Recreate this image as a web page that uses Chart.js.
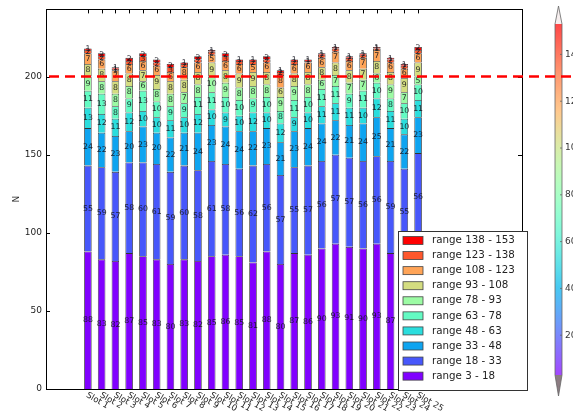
<!DOCTYPE html>
<html>
<head>
<meta charset="utf-8">
<script src="https://cdn.jsdelivr.net/npm/chart.js@4/dist/chart.umd.min.js"></script>
<style>
  html, body { margin: 0; padding: 0; background: #ffffff; }
  #wrap { width: 573px; height: 418px; }
</style>
</head>
<body>
<div id="wrap"><canvas id="c" width="573" height="418"></canvas></div>
<script>
// Slot names along the x axis
const slots = ['Slot 1','Slot 2','Slot 3','Slot 4','Slot 5','Slot 6','Slot 7','Slot 8','Slot 9','Slot 10',
  'Slot 11','Slot 12','Slot 13','Slot 14','Slot 15','Slot 16','Slot 17','Slot 18','Slot 19','Slot 20',
  'Slot 21','Slot 22','Slot 23','Slot 24','Slot 25'];

// Range names, bottom of the stack first
const ranges = ['range 3 - 18','range 18 - 33','range 33 - 48','range 48 - 63','range 63 - 78',
  'range 78 - 93','range 93 - 108','range 108 - 123','range 123 - 138','range 138 - 153'];

// Counts per slot for each range
const r3   = [88,83,82,87,85,83,80,83,82,85,86,85,81,88,80,87,86,90,93,91,90,93,87,86,95];
const r18  = [55,59,57,58,60,61,59,60,58,61,58,56,62,56,57,55,57,56,57,57,56,56,59,55,56];
const r33  = [24,22,23,20,23,20,22,21,24,23,24,24,22,23,21,23,24,24,22,21,24,25,21,22,23];
const r48  = [13,12,11,12,10,10,11,10,12,10, 9,10,12,10,12, 9,10,11,11,11,10,12,11,10,11];
const r63  = [11,13, 8, 9,13,10, 9, 9,11,11,10,10, 9,10, 8,11,10,11,11, 9,11,10, 8,10,10];
const r78  = [ 9, 8, 8, 8, 6, 8, 8, 7, 8,10, 9, 8, 8, 8, 9, 9, 8, 6, 7, 7, 7, 6, 9, 7, 5];
const r93  = [ 8, 8, 8, 8, 7, 9, 8, 8, 8, 9, 8, 9, 9, 8, 6, 8, 8, 8, 8, 8, 7, 8, 8, 9, 9];
const r108 = [ 7, 6, 7, 6, 6, 6, 6, 8, 6, 5, 6, 6, 5, 6, 8, 6, 6, 6, 7, 6, 7, 7, 6, 6, 6];
const r123 = [ 2, 2, 1, 2, 3, 2, 3, 2, 2, 2, 3, 2, 2, 2, 2, 2, 1, 2, 2, 2, 2, 1, 2, 2, 2];
const r138 = [ 1, 2, 1, 2, 2, 2, 2, 1, 2, 1, 2, 1, 1, 2, 1, 1, 1, 1, 1, 1, 1, 1, 1, 1, 2];

// Reference threshold and colour bar ticks
const threshold = 200;
const yTicks = [0, 50, 100, 150, 200];
const colorbarTicks = [20, 40, 60, 80, 100, 120, 140];
const colorbarRange = [3, 153];

const series = [r3, r18, r33, r48, r63, r78, r93, r108, r123, r138];

// matplotlib "rainbow" colour map
function rainbowRGB(t) {
  const c = v => Math.max(0, Math.min(1, v));
  return [c(Math.abs(2 * t - 0.5)), c(Math.sin(t * Math.PI)), c(Math.cos(t * Math.PI / 2))]
    .map(v => Math.round(v * 255));
}
function rainbow(t, alpha = 1) {
  const [r, g, b] = rainbowRGB(t);
  return `rgba(${r},${g},${b},${alpha})`;
}
const colors = ranges.map((_, i) => rainbow(i / (ranges.length - 1)));

const FONT = "'DejaVu Sans', sans-serif";

// Value labels centred on each bar segment
const segmentLabels = {
  id: 'segmentLabels',
  afterDatasetsDraw(chart) {
    const ctx = chart.ctx;
    ctx.save();
    ctx.font = `7.8px ${FONT}`;
    ctx.fillStyle = 'rgba(20,20,30,0.9)';
    ctx.textAlign = 'center';
    ctx.textBaseline = 'middle';
    chart.data.datasets.forEach((ds, i) => {
      const meta = chart.getDatasetMeta(i);
      meta.data.forEach((el, j) => {
        const v = ds.data[j].y;
        ctx.fillText(String(v), el.x, (el.y + el.base) / 2);
      });
    });
    ctx.restore();
  }
};

// Frame, inward ticks, rotated slot labels, colour bar, threshold line and legend
const decorations = {
  id: 'decorations',
  afterDraw(chart) {
    const ctx = chart.ctx;
    const a = chart.chartArea;
    const xs = chart.scales.x, ys = chart.scales.y;
    ctx.save();

    // axes frame
    ctx.strokeStyle = '#000';
    ctx.lineWidth = 1;
    ctx.strokeRect(Math.round(a.left) + 0.5, Math.round(a.top) + 0.5,
      Math.round(a.right - a.left), Math.round(a.bottom - a.top));

    // inward tick marks
    ctx.beginPath();
    yTicks.forEach(t => {
      const py = Math.round(ys.getPixelForValue(t)) + 0.5;
      ctx.moveTo(a.left, py); ctx.lineTo(a.left + 4, py);
      ctx.moveTo(a.right, py); ctx.lineTo(a.right - 4, py);
    });
    slots.forEach((_, i) => {
      const px = Math.round(xs.getPixelForValue(i)) + 0.5;
      ctx.moveTo(px, a.top); ctx.lineTo(px, a.top + 4);
    });
    ctx.stroke();

    // slot labels, rotated clockwise
    ctx.fillStyle = '#222';
    ctx.font = `8.5px ${FONT}`;
    ctx.textAlign = 'left';
    ctx.textBaseline = 'top';
    slots.forEach((s, i) => {
      const px = xs.getPixelForValue(i);
      ctx.save();
      ctx.translate(px + 1, a.bottom + 2);
      ctx.rotate(Math.PI / 6);
      ctx.fillText(s, 0, 0);
      ctx.restore();
    });

    // colour bar with pointed ends
    const cbX = 555, cbW = 7, cbTop = 24, cbBot = 375, tipTop = 6, tipBot = 396;
    const g = ctx.createLinearGradient(0, cbBot, 0, cbTop);
    for (let k = 0; k <= 20; k++) g.addColorStop(k / 20, rainbow(k / 20, 0.72));
    ctx.fillStyle = g;
    ctx.fillRect(cbX, cbTop, cbW, cbBot - cbTop);
    ctx.fillStyle = '#f6eeee';
    ctx.beginPath();
    ctx.moveTo(cbX, cbTop); ctx.lineTo(cbX + cbW / 2, tipTop); ctx.lineTo(cbX + cbW, cbTop); ctx.closePath();
    ctx.fill();
    ctx.fillStyle = '#8c7c82';
    ctx.beginPath();
    ctx.moveTo(cbX, cbBot); ctx.lineTo(cbX + cbW / 2, tipBot); ctx.lineTo(cbX + cbW, cbBot); ctx.closePath();
    ctx.fill();
    ctx.strokeStyle = '#666';
    ctx.lineWidth = 0.8;
    ctx.beginPath();
    ctx.moveTo(cbX, cbTop); ctx.lineTo(cbX + cbW / 2, tipTop); ctx.lineTo(cbX + cbW, cbTop);
    ctx.lineTo(cbX + cbW, cbBot); ctx.lineTo(cbX + cbW / 2, tipBot); ctx.lineTo(cbX, cbBot); ctx.closePath();
    ctx.stroke();
    ctx.fillStyle = '#333';
    ctx.font = `9px ${FONT}`;
    ctx.textAlign = 'left';
    ctx.textBaseline = 'middle';
    colorbarTicks.forEach(t => {
      const py = cbBot - (t - colorbarRange[0]) / (colorbarRange[1] - colorbarRange[0]) * (cbBot - cbTop);
      ctx.beginPath();
      ctx.moveTo(cbX + cbW, py); ctx.lineTo(cbX + cbW - 2, py);
      ctx.stroke();
      ctx.fillText(String(t), cbX + cbW + 3, py);
    });

    // threshold line
    const ty = ys.getPixelForValue(threshold);
    ctx.strokeStyle = '#ff0000';
    ctx.lineWidth = 2.5;
    ctx.setLineDash([10, 6]);
    ctx.beginPath();
    ctx.moveTo(a.left + 3, ty); ctx.lineTo(chart.width, ty);
    ctx.stroke();
    ctx.setLineDash([]);

    // legend box, top entry is the highest range
    const lx = 398, ly = 231, lw = 129, lh = 159;
    ctx.fillStyle = '#fff';
    ctx.fillRect(lx, ly, lw, lh);
    ctx.strokeStyle = '#333';
    ctx.lineWidth = 1;
    ctx.strokeRect(lx + 0.5, ly + 0.5, lw, lh);
    ctx.font = `10.3px ${FONT}`;
    ctx.textAlign = 'left';
    ctx.textBaseline = 'middle';
    const n = ranges.length;
    for (let k = 0; k < n; k++) {
      const idx = n - 1 - k;
      const cy = ly + 9.5 + k * 15.07;
      ctx.fillStyle = colors[idx];
      ctx.fillRect(lx + 5, cy - 4, 20, 8);
      ctx.strokeStyle = '#444';
      ctx.lineWidth = 0.8;
      ctx.strokeRect(lx + 5, cy - 4, 20, 8);
      ctx.fillStyle = '#222';
      ctx.fillText(ranges[idx], lx + 34, cy);
    }
    ctx.restore();
  }
};

const datasets = ranges.map((name, i) => ({
  label: name,
  data: series[i].map((v, j) => ({ x: j, y: v })),
  backgroundColor: colors[i],
  borderColor: 'rgba(0,0,0,0.8)',
  borderWidth: 0.8,
  barPercentage: 0.55,
  categoryPercentage: 1,
  stack: 'slots'
}));

new Chart(document.getElementById('c'), {
  type: 'bar',
  data: { datasets },
  options: {
    responsive: false,
    animation: false,
    layout: { padding: { top: 6, right: 51, left: 0, bottom: 0 } },
    scales: {
      x: {
        type: 'linear', min: -0.573, max: 29.08, stacked: true,
        grid: { display: false }, border: { display: false },
        ticks: { display: false },
        afterFit(s) { s.height = 29; }
      },
      y: {
        min: 0, max: 243, stacked: true,
        grid: { display: false, drawTicks: false }, border: { display: false },
        afterBuildTicks(s) { s.ticks = yTicks.map(v => ({ value: v })); },
        ticks: { padding: 4, color: '#222', font: { family: FONT, size: 9 } },
        title: { display: true, text: 'N', color: '#222', padding: { top: 11 }, font: { family: FONT, size: 9 } },
        afterFit(s) { s.width = 46; }
      }
    },
    plugins: { legend: { display: false }, tooltip: { enabled: false } }
  },
  plugins: [segmentLabels, decorations]
});
</script>
</body>
</html>
